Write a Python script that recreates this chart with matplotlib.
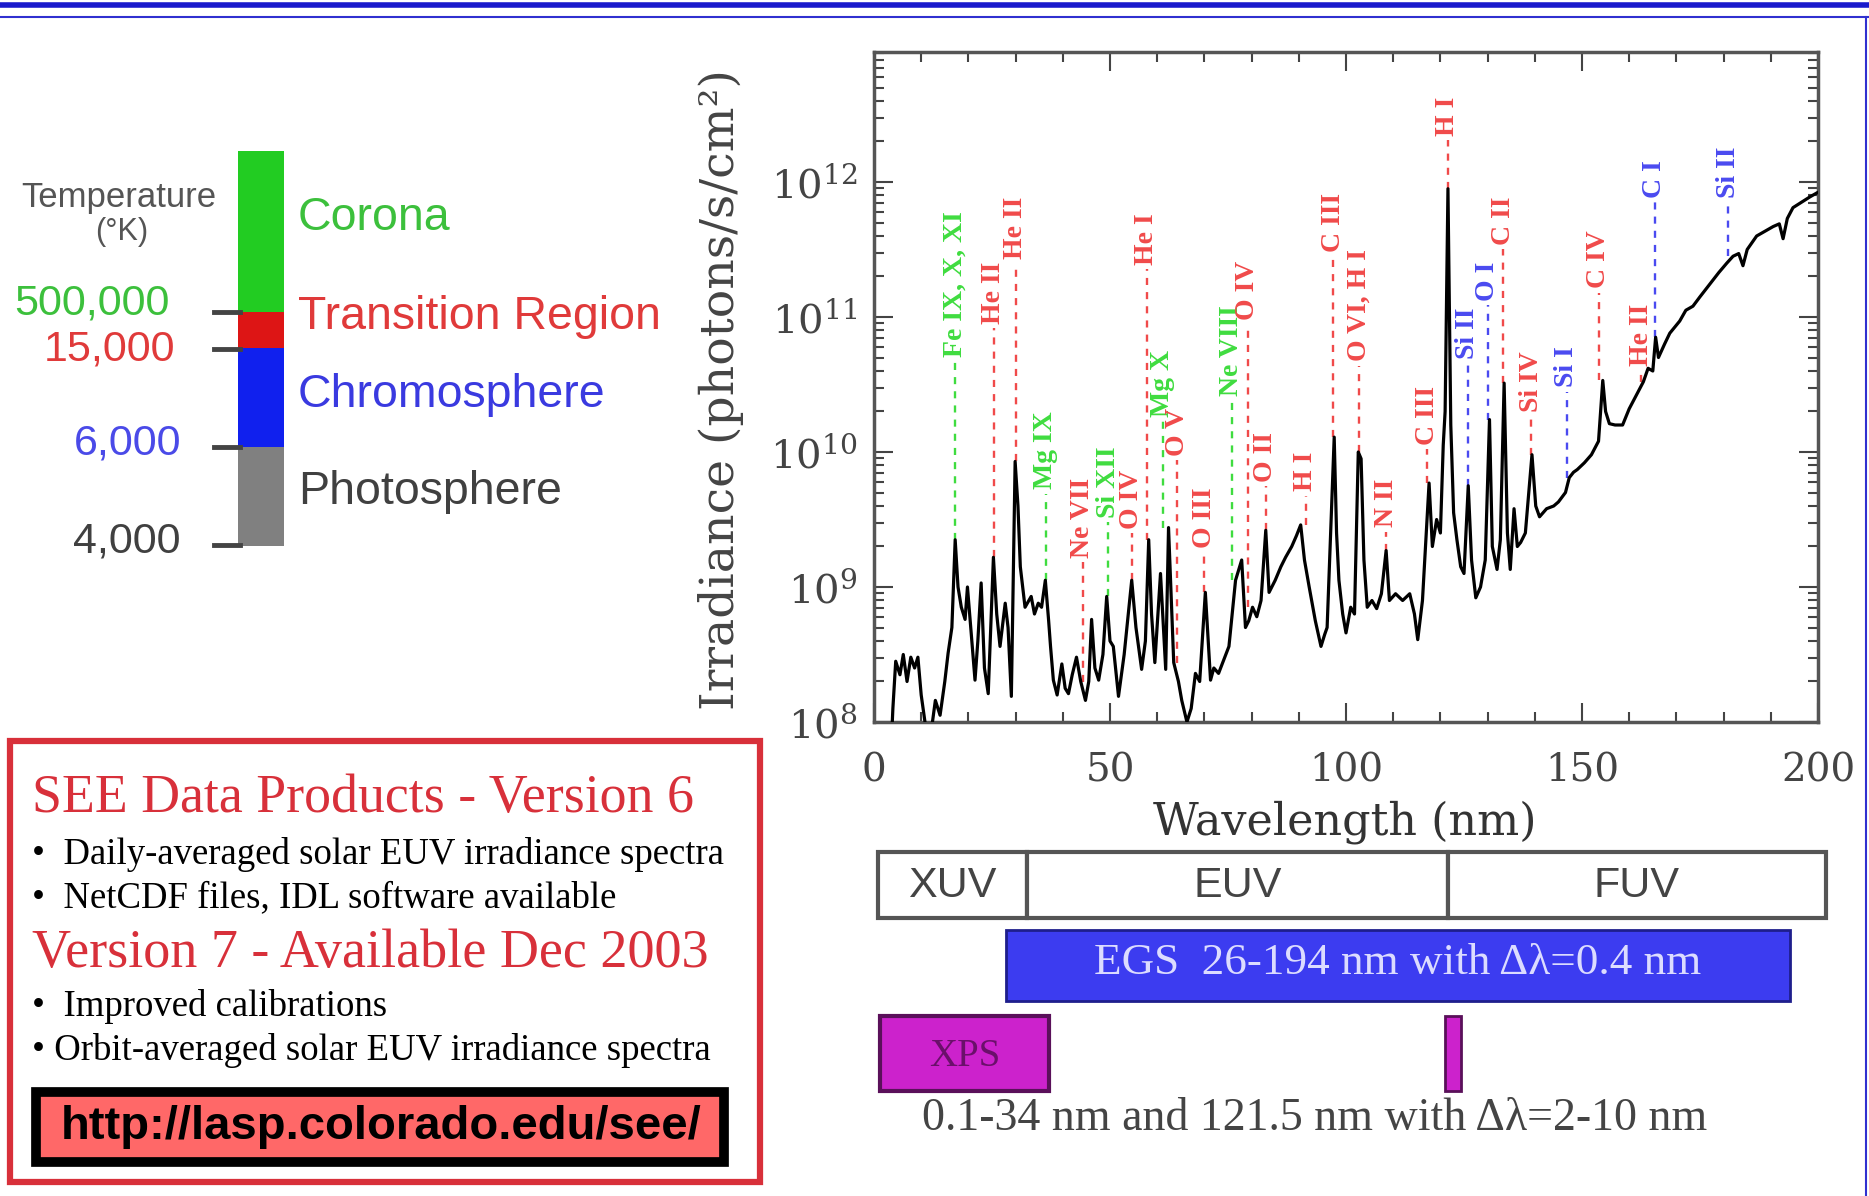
import numpy as np
import matplotlib.pyplot as plt
from matplotlib.patches import Rectangle
from matplotlib.ticker import MultipleLocator, LogLocator, NullFormatter

W, H = 1869, 1196

# ---- solar spectrum (nm, log10 photons/s/cm^2) ----
wavelength = [0.5, 3.5, 4.0, 4.6, 5.5, 6.2, 7.0, 7.8, 8.6, 9.3, 10.0, 11.0, 12.0, 13.0,
              14.0, 15.0, 15.7, 16.5, 17.2, 17.8, 18.5, 19.3, 19.8, 20.5, 21.4, 22.0,
              22.7, 23.4, 24.2, 25.3, 26.0, 26.7, 27.8, 28.4, 29.1, 29.9, 30.5, 31.0,
              32.0, 33.3, 34.0, 34.8, 35.5, 36.3, 37.0, 37.4, 38.0, 38.8, 39.8, 40.5,
              41.2, 42.0, 42.9, 43.8, 44.8, 45.5, 46.1, 46.8, 47.6, 48.5, 49.3, 50.0,
              50.7, 51.8, 53.0, 54.6, 55.5, 56.7, 57.5, 58.2, 58.8, 59.5, 60.7, 61.8,
              62.4, 63.5, 64.5, 65.2, 66.3, 67.2, 68.1, 69.0, 70.2, 71.3, 72.0, 73.0,
              74.0, 75.2, 76.6, 77.9, 78.7, 79.4, 80.2, 81.1, 82.0, 83.0, 83.7, 85.0,
              86.2, 87.2, 88.5, 89.5, 90.4, 91.2, 92.2, 93.5, 94.7, 95.5, 96.0, 97.5,
              98.0, 98.5, 99.3, 100.0, 101.0, 101.8, 102.6, 103.2, 103.8, 104.5, 105.5,
              106.5, 107.5, 108.5, 109.2, 110.5, 112.0, 113.5, 114.5, 115.2, 116.2,
              117.6, 118.3, 119.2, 120.0, 120.6, 121.0, 121.6, 122.2, 122.8, 123.5,
              124.3, 125.0, 125.9, 126.6, 127.5, 128.5, 129.5, 130.4, 131.0, 132.0,
              132.7, 133.5, 134.2, 134.8, 135.6, 136.3, 137.0, 138.0, 139.4, 140.2,
              141.0, 142.5, 144.0, 145.0, 146.5, 147.3, 148.2, 149.0, 150.5, 152.0,
              153.5, 154.4, 155.0, 155.8, 157.0, 158.6, 160.0, 161.5, 163.0, 164.0,
              165.0, 165.6, 166.2, 167.5, 168.6, 170.7, 172.0, 173.5, 175.0, 177.0,
              179.0, 180.7, 182.0, 183.2, 184.1, 185.0, 187.0, 188.5, 190.5, 191.8,
              192.6, 193.5, 194.7, 196.5, 198.3, 199.8]
log_irradiance = [7.6, 7.7, 8.1, 8.45, 8.35, 8.5, 8.3, 8.48, 8.4, 8.48, 8.2, 7.95, 7.9, 8.16,
                  8.05, 8.3, 8.51, 8.7, 9.35, 9.0, 8.85, 8.76, 9.0, 8.7, 8.31, 8.6,
                  9.03, 8.4, 8.21, 9.22, 8.8, 8.56, 8.88, 8.7, 8.19, 9.93, 9.6, 9.15,
                  8.85, 8.93, 8.8, 8.88, 8.85, 9.05, 8.75, 8.56, 8.31, 8.2, 8.43, 8.25,
                  8.21, 8.35, 8.48, 8.3, 8.16, 8.3, 8.76, 8.4, 8.31, 8.5, 8.93, 8.6,
                  8.56, 8.19, 8.5, 9.05, 8.7, 8.39, 8.6, 9.35, 8.8, 8.44, 9.10, 8.39,
                  9.44, 8.44, 8.3, 8.16, 8.0, 8.1, 8.36, 8.3, 8.96, 8.31, 8.4, 8.36,
                  8.45, 8.56, 9.05, 9.2, 8.70, 8.75, 8.85, 8.78, 8.9, 9.42, 8.96, 9.05,
                  9.15, 9.22, 9.3, 9.38, 9.46, 9.2, 9.0, 8.75, 8.56, 8.65, 8.7, 10.11,
                  9.4, 9.05, 8.8, 8.66, 8.85, 8.8, 10.0, 9.95, 9.2, 8.85, 8.9,
                  8.84, 8.95, 9.27, 8.9, 8.95, 8.9, 8.95, 8.8, 8.61, 8.9,
                  9.77, 9.3, 9.5, 9.4, 10.05, 10.3, 11.95, 10.2, 9.55, 9.35,
                  9.15, 9.1, 9.75, 9.2, 8.92, 9.0, 9.2, 10.24, 9.3, 9.13,
                  9.35, 10.51, 9.4, 9.13, 9.58, 9.3, 9.33, 9.4, 9.98, 9.6,
                  9.52, 9.58, 9.6, 9.63, 9.7, 9.81, 9.85, 9.87, 9.92, 9.98,
                  10.08, 10.53, 10.3, 10.21, 10.2, 10.2, 10.32, 10.42, 10.52, 10.62,
                  10.6, 10.85, 10.7, 10.8, 10.88, 10.97, 11.05, 11.08, 11.15, 11.24,
                  11.33, 11.4, 11.45, 11.47, 11.38, 11.5, 11.6, 11.63, 11.67, 11.69,
                  11.58, 11.73, 11.81, 11.85, 11.89, 11.92]

# ---- emission line labels: name, wavelength, log10 of label top, colour ----
line_names = ['Fe IX, X, XI', 'He II', 'He II', 'Mg IX', 'Ne VII', 'Si XII', 'O IV',
              'He I', 'Mg X', 'O V', 'O III', 'Ne VIII', 'O IV', 'O II', 'H I',
              'C III', 'O VI, H I', 'N II', 'C III', 'H I', 'Si II', 'O I', 'C II',
              'Si IV', 'Si I', 'C IV', 'He II', 'C I', 'Si II']
line_wl = [17.1, 25.4, 30.0, 36.4, 44.2, 49.6, 54.6, 57.8, 61.2, 64.2, 70.0, 75.8,
           79.2, 83.0, 91.5, 97.3, 102.8, 108.5, 117.2, 121.6, 125.8, 130.0, 133.3,
           139.3, 146.8, 153.5, 162.5, 165.4, 181.0]
line_top = [11.78, 11.41, 11.89, 10.30, 9.81, 10.04, 9.87, 11.77, 10.76, 10.33, 9.74,
            11.09, 11.42, 10.15, 10.0, 11.92, 11.5, 9.8, 10.49, 12.63, 11.07, 11.41,
            11.89, 10.75, 10.78, 11.64, 11.1, 12.16, 12.26]
line_kind = ['g', 'r', 'r', 'g', 'r', 'g', 'r', 'r', 'g', 'r', 'r', 'g', 'r', 'r', 'r',
             'r', 'r', 'r', 'r', 'r', 'b', 'b', 'r', 'r', 'b', 'r', 'r', 'b', 'b']
kind_colors = {'r': '#f04a4a', 'g': '#3fdc3f', 'b': '#4a4af0'}

# ---- wavelength bands and instruments (nm) ----
band_names = ['XUV', 'EUV', 'FUV']
band_edges = [0.8, 32.4, 121.6, 201.7]
egs_range = (28.0, 194.0)
xps_range = (1.3, 37.0)
lya_range = (121.0, 124.4)

# ---- solar atmosphere layers ----
layer_names = ['Corona', 'Transition Region', 'Chromosphere', 'Photosphere']
layer_colors = ['#22cc22', '#dd1515', '#1020ee', '#808080']
layer_text_colors = ['#3cc03c', '#e03a3a', '#3a3ae0', '#404040']
temp_labels = ['500,000', '15,000', '6,000', '4,000']
temp_colors = ['#3cc03c', '#e03a3a', '#4a4ae8', '#404040']

plt.rcParams['font.family'] = 'DejaVu Serif'
plt.rcParams['mathtext.fontset'] = 'dejavuserif'

fig = plt.figure(figsize=(W / 100, H / 100), dpi=100)
fig.patch.set_facecolor('white')

# main spectrum axes
ax = fig.add_axes([874 / W, 1 - 722 / H, 944 / W, 670 / H])
irr = 10 ** np.array(log_irradiance)
ax.semilogy(wavelength, irr, color='black', lw=2.3, zorder=3)
ax.set_xlim(0, 200)
ax.set_ylim(1e8, 10 ** 12.963)
ax.xaxis.set_major_locator(MultipleLocator(50))
ax.xaxis.set_minor_locator(MultipleLocator(10))
ax.yaxis.set_major_locator(LogLocator(base=10, numticks=10))
ax.yaxis.set_minor_locator(LogLocator(base=10, subs=np.arange(2, 10), numticks=10))
ax.yaxis.set_minor_formatter(NullFormatter())
ax.tick_params(which='both', direction='in', top=True, right=True, color='#444',
               labelcolor='#444', width=1.5)
ax.tick_params(axis='y', labelsize=29, pad=12)
ax.tick_params(axis='x', labelsize=28, pad=22)
ax.tick_params(which='major', length=14)
ax.tick_params(which='minor', length=7)
for s in ax.spines.values():
    s.set_color('#555')
    s.set_linewidth(2.5)

fig.text(1345 / W, 1 - 822 / H, 'Wavelength (nm)', ha='center', va='center',
         fontsize=32, color='#333')
fig.text(721 / W, 1 - 390 / H, 'Irradiance (photons/s/cm²)', ha='center', va='center',
         rotation=90, fontsize=34, color='#444')

# line labels with dashed leaders
labels = []
for name, wl, top, k in zip(line_names, line_wl, line_top, line_kind):
    t = ax.text(wl, 10 ** top, name, rotation=90, ha='center', va='top',
                color=kind_colors[k], fontsize=20, fontweight='bold',
                family='Liberation Serif', zorder=4)
    labels.append(t)
fig.canvas.draw()
inv = ax.transData.inverted()
wl_arr = np.array(wavelength)
for t, wl, k in zip(labels, line_wl, line_kind):
    bb = t.get_window_extent()
    ybot = inv.transform((bb.x0, bb.y0))[1]
    near = (wl_arr > wl - 1.2) & (wl_arr < wl + 1.2)
    peak = irr[near].max() if near.any() else np.interp(wl, wl_arr, irr)
    ax.plot([wl, wl], [peak, ybot * 0.93], color=kind_colors[k], lw=1.7,
            ls=(0, (3, 3)), zorder=2)

# band / instrument panel sharing the wavelength scale
axb = fig.add_axes([874 / W, 1 - 1180 / H, 944 / W, 340 / H])
axb.set_xlim(0, 200)
axb.set_ylim(1180, 840)
axb.axis('off')
for i, name in enumerate(band_names):
    x0, x1 = band_edges[i], band_edges[i + 1]
    axb.add_patch(Rectangle((x0, 852), x1 - x0, 66, fc='white', ec='#555', lw=3,
                            clip_on=False))
    axb.text((x0 + x1) / 2, 886, name, ha='center', va='center', fontsize=31,
             color='#444', family='Liberation Sans', clip_on=False)
axb.add_patch(Rectangle((egs_range[0], 930), egs_range[1] - egs_range[0], 71,
                        fc='#3c3cf0', ec='#1e1e8c', lw=2, clip_on=False))
axb.text((egs_range[0] + egs_range[1]) / 2, 963, 'EGS  26-194 nm with Δλ=0.4 nm',
         ha='center', va='center', fontsize=32.5, color='#dcdcff',
         family='Liberation Serif')
axb.add_patch(Rectangle((xps_range[0], 1016), xps_range[1] - xps_range[0], 75,
                        fc='#cc22cc', ec='#5a105a', lw=3, clip_on=False))
axb.text((xps_range[0] + xps_range[1]) / 2, 1056, 'XPS', ha='center', va='center',
         fontsize=28, color='#6a106a', family='Liberation Serif')
axb.add_patch(Rectangle((lya_range[0], 1016), lya_range[1] - lya_range[0], 75,
                        fc='#cc22cc', ec='#5a105a', lw=2, clip_on=False))
axb.text(93.4, 1119, '0.1-34 nm and 121.5 nm with Δλ=2-10 nm', ha='center',
         va='center', fontsize=33, color='#444', family='Liberation Serif')

# overlay in pixel coordinates for the rest
axo = fig.add_axes([0, 0, 1, 1])
axo.set_xlim(0, W)
axo.set_ylim(H, 0)
axo.axis('off')

axo.plot([0, W], [5, 5], color='#1a1acc', lw=4)
axo.plot([0, W], [17, 17], color='#3030d0', lw=1.5)
axo.plot([1866, 1866], [17, H], color='#3030d0', lw=1.5)

# temperature bar
bar_edges = [151, 312, 348, 447, 546]
text_y = [218, 317, 395, 492]
for i in range(4):
    axo.add_patch(Rectangle((238, bar_edges[i]), 46, bar_edges[i + 1] - bar_edges[i],
                            fc=layer_colors[i], ec='none'))
    axo.text(298, text_y[i], layer_names[i], ha='left', va='center', fontsize=33.5,
             color=layer_text_colors[i], family='Liberation Sans')
tick_y = [312, 349, 447, 545]
temp_y = [304, 349, 443, 542]
temp_x = [170, 175, 181, 181]
for i in range(4):
    axo.plot([214, 240], [tick_y[i], tick_y[i]], color='#444', lw=3.5)
    axo.text(temp_x[i], temp_y[i], temp_labels[i], ha='right', va='center',
             fontsize=31, color=temp_colors[i], family='Liberation Sans')
axo.text(119, 197, 'Temperature', ha='center', va='center', fontsize=25,
         color='#555', family='Liberation Sans')
axo.text(122, 232, '(°K)', ha='center', va='center', fontsize=22,
         color='#555', family='Liberation Sans')

# info box
axo.add_patch(Rectangle((10, 741), 750, 441, fc='white', ec='#d8303a', lw=4.5))
red = '#d8303a'
axo.text(32, 799, 'SEE Data Products - Version 6', ha='left', va='center',
         fontsize=38.8, color=red, family='Liberation Serif')
axo.text(32, 855, '•  Daily-averaged solar EUV irradiance spectra', ha='left',
         va='center', fontsize=26.5, color='black', family='Liberation Serif')
axo.text(32, 898, '•  NetCDF files, IDL software available', ha='left',
         va='center', fontsize=26.5, color='black', family='Liberation Serif')
axo.text(32, 954, 'Version 7 - Available Dec 2003', ha='left', va='center',
         fontsize=39, color=red, family='Liberation Serif')
axo.text(32, 1007, '•  Improved calibrations', ha='left', va='center',
         fontsize=26.5, color='black', family='Liberation Serif')
axo.text(32, 1051, '• Orbit-averaged solar EUV irradiance spectra', ha='left',
         va='center', fontsize=26.5, color='black', family='Liberation Serif')
axo.add_patch(Rectangle((36, 1092), 688, 70, fc='#ff6868', ec='black', lw=7))
axo.text(381, 1127, 'http://lasp.colorado.edu/see/', ha='center', va='center',
         fontsize=34, fontweight='bold', color='black', family='Liberation Sans')

fig.savefig('out.png', dpi=100)
